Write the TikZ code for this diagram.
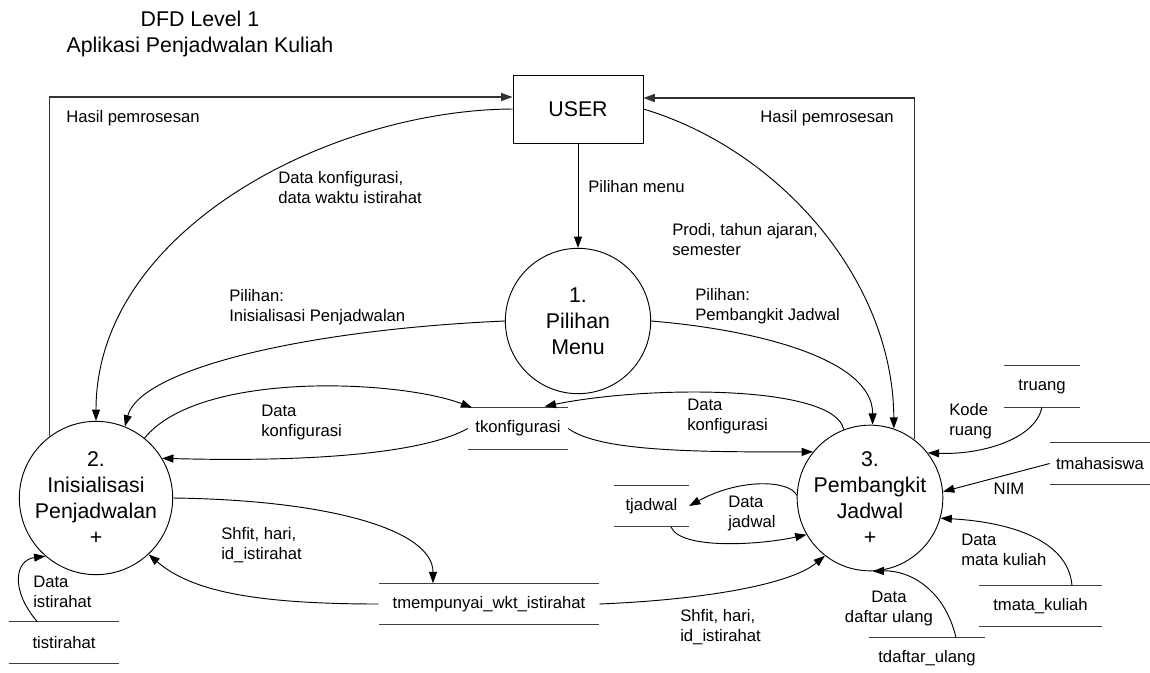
\documentclass[tikz,border=0pt]{standalone}
\usepackage{fontspec}
\setmainfont{Liberation Sans}
\usetikzlibrary{arrows.meta,calc}
\begin{document}
\begin{tikzpicture}[x=0.75pt,y=-0.75pt,
 proc/.style={circle,draw,line width=0.7pt,minimum size=109pt,inner sep=0pt,align=center,font=\fontsize{16}{19.5}\selectfont},
 ent/.style={rectangle,draw,line width=0.7pt,minimum width=97.5pt,minimum height=51pt,font=\fontsize{16}{19.5}\selectfont},
 store/.style={inner sep=0pt,minimum height=30.75pt,font=\fontsize{12.5}{15}\selectfont},
 lbl/.style={inner sep=0pt,align=left,anchor=west,font=\fontsize{12.5}{15}\selectfont},
 flow/.style={line width=0.7pt,-{Triangle[length=8.5pt,width=6pt]}},
 frame/.style={line width=0.9pt,black!80,-{Triangle[length=8.5pt,width=6pt]}},
 sline/.style={line width=0.8pt,black!75},
]
\fill[white] (0,0) rectangle (1150,672);
\useasboundingbox (0,0) rectangle (1150,672);

% title
\node[align=center,font=\fontsize{16}{20}\selectfont] (title) at (200,34) {DFD Level 1\\Aplikasi Penjadwalan Kuliah};

% entity and processes
\node[ent] (user) at (578,109) {USER};
\node[proc] (p1) at (578,321) {1.\\Pilihan\\Menu};
\node[proc] (p2) at (96,498) {2.\\Inisialisasi\\Penjadwalan\\+};
\node[proc] (p3) at (870,498) {3.\\Pembangkit\\Jadwal\\+};

% data stores
\node[store,minimum width=75pt] (tk) at (518,428.5) {tkonfigurasi};
\node[store,minimum width=56pt] (tj) at (651.5,506) {tjadwal};
\node[store,minimum width=165pt] (tm) at (489,604) {tmempunyai\_wkt\_istirahat};
\node[store,minimum width=82.5pt] (ti) at (64,642.5) {tistirahat};
\node[store,minimum width=57pt] (tr) at (1042,386.5) {truang};
\node[store,minimum width=75pt] (tmh) at (1100,463.5) {tmahasiswa};
\node[store,minimum width=92pt] (tmk) at (1040.5,606) {tmata\_kuliah};
\node[store,minimum width=87pt] (tdu) at (927,658.5) {tdaftar\_ulang};
\foreach \s in {tk,tj,tm,ti,tr,tmh,tmk}
  \draw[sline] (\s.north west) -- (\s.north east) (\s.south west) -- (\s.south east);
\draw[sline] (tdu.north west) -- (tdu.north east);

% frame flows to USER
\draw[frame] (p2.127) |- ([yshift=9pt]user.west);
\draw[frame] (p3.53) |- ([yshift=8.25pt]user.east);

% flows
\draw[flow] (user.south) -- (p1.north);
\draw[flow] (user.west) .. controls (330,110) and (96,230) .. (p2.north);
\draw[flow] (user.east) .. controls (780,150) and (893,280) .. (p3.71);
\draw[flow] (p1.west) .. controls (300,330) and (140,370) .. (p2.68);
\draw[flow] (p1.east) .. controls (760,330) and (873,360) .. (p3.88);
\draw[flow] (p2.51) .. controls (200,370) and (400,380) .. ([xshift=3.4pt]tk.north west);
\draw[flow] (tk.west) .. controls (420,455) and (300,462) .. (p2.31);
\draw[flow] (p3.111) .. controls (835,385) and (650,385) .. ([xshift=20pt,yshift=1pt]tk.north);
\draw[flow] (tk.east) .. controls (600,452) and (700,452) .. (p3.141);
\draw[flow] (p3.178) .. controls (790,480) and (740,478) .. (tj.east);
\draw[flow] ([xshift=14.6pt]tj.south) .. controls (680,550) and (760,545) .. (p3.-150);
\draw[flow] (p2.east) .. controls (330,500) and (433,530) .. ([xshift=-42pt]tm.north);
\draw[flow] (tm.west) .. controls (250,604) and (190,590) .. (p2.-47);
\draw[flow] (tm.east) .. controls (700,600) and (790,585) .. (p3.-128);
\draw[flow] ([xshift=-20pt]ti.north) .. controls (10,590) and (15,560) .. (p2.-131);
\draw[flow] (tr.south) .. controls (1035,440) and (980,455) .. (p3.38);
\draw[flow] (tmh.west) -- (p3.5);
\draw[flow] ([xshift=23.6pt]tmk.north) .. controls (1068,540) and (1010,522) .. (p3.-16);
\draw[flow] ([xshift=21.75pt]tdu.north) .. controls (945,590) and (910,570) .. (p3.-88);

% labels
\node[lbl] (la) at (66,118) {Hasil pemrosesan};
\node[lbl] (lb) at (760,118) {Hasil pemrosesan};
\node[lbl] (lc) at (588,187) {Pilihan menu};
\node[lbl] (ld) at (278,187.5) {Data konfigurasi,\\data waktu istirahat};
\node[lbl] (le) at (672,240) {Prodi, tahun ajaran,\\semester};
\node[lbl] (lf) at (229,307) {Pilihan:\\Inisialisasi Penjadwalan};
\node[lbl] (lg) at (695,306) {Pilihan:\\Pembangkit Jadwal};
\node[lbl] (lh) at (261,422) {Data\\konfigurasi};
\node[lbl] (li) at (687,416) {Data\\konfigurasi};
\node[lbl] (lj) at (728,513) {Data\\jadwal};
\node[lbl] (lk) at (221,545.5) {Shfit, hari,\\id\_istirahat};
\node[lbl] (ll) at (680,627) {Shfit, hari,\\id\_istirahat};
\node[lbl] (lm) at (33,592) {Data\\istirahat};
\node[lbl] (ln) at (949,421) {Kode\\ruang};
\node[lbl,anchor=center] (lo) at (1009,489) {NIM};
\node[lbl] (lp) at (961,550) {Data\\mata kuliah};
\node[lbl,align=center,anchor=center] (lq) at (889,608) {Data\\daftar ulang};
\end{tikzpicture}
\end{document}
